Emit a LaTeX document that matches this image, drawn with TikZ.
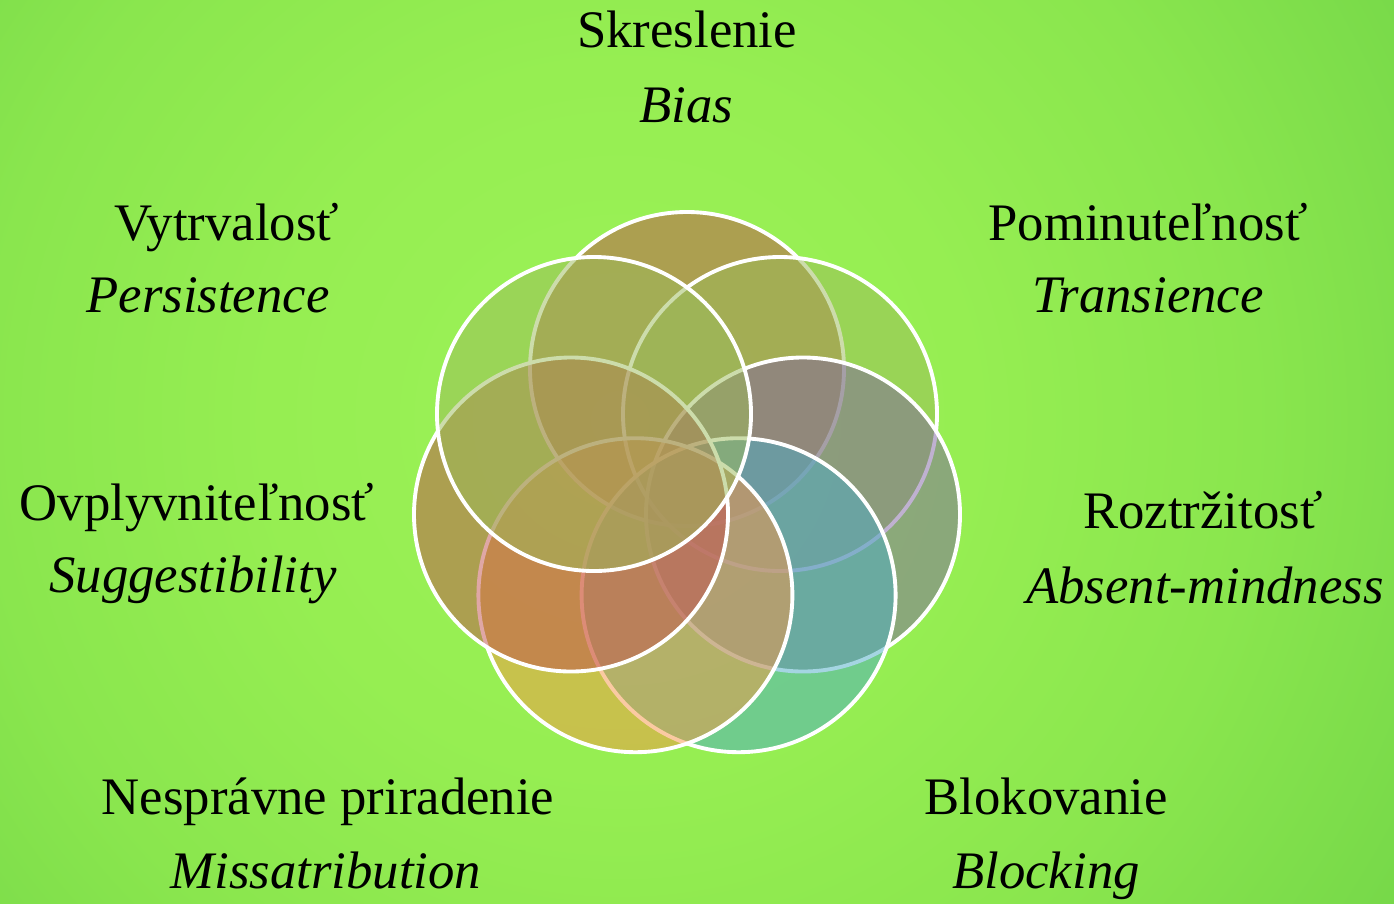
\documentclass[tikz,border=0pt]{standalone}
\usepackage{fontspec}
\setmainfont{Liberation Serif}
\usepackage{xcolor}
\usepackage{tikz}
\definecolor{bgA}{HTML}{9CF258}
\definecolor{bgB}{HTML}{96EE52}
\definecolor{bgC}{HTML}{8AE64E}
\definecolor{bgD}{HTML}{76D849}
\definecolor{bgE}{HTML}{6AD045}
\definecolor{bgF}{HTML}{64CA42}
\definecolor{cervena}{HTML}{C0504D}
\definecolor{zelena}{HTML}{9BBB59}
\definecolor{fialova}{HTML}{8064A2}
\definecolor{tyrkys}{HTML}{4BACC6}
\definecolor{oranzova}{HTML}{F79646}
\pgfdeclareradialshading{pozadie}{\pgfpoint{0bp}{0bp}}{color(0bp)=(bgA); color(9.3bp)=(bgB); color(16.7bp)=(bgC); color(24.2bp)=(bgD); color(29.8bp)=(bgE); color(34.6bp)=(bgF); color(50bp)=(bgF)}
\tikzset{
    kruh/.style = {circle, draw=white, line width=1.1pt, minimum size=3.14cm, inner sep=0pt, fill opacity=0.5},
    k1/.style = {fill=cervena},
    k2/.style = {fill=zelena},
    k3/.style = {fill=fialova},
    k4/.style = {fill=tyrkys},
    k5/.style = {fill=oranzova},
    popis/.style = {anchor=base, inner sep=0pt, font=\fontsize{15}{18}\selectfont},
    preklad/.style = {popis, font=\fontsize{15}{18}\selectfont\itshape}
}

\begin{document}
\begin{tikzpicture}
    \useasboundingbox (0,0) rectangle (13.94,-9.03);
    \begin{scope}
        \clip (0,0) rectangle (13.94,-9.03);
        \fill[bgF] (0,0) rectangle (13.94,-9.03);
        \shade[shading=pozadie] (6.20,-4.20) circle (9.5);
    \end{scope}
    % kruhy, v smere hodin od vrchu
    \node (skr) [kruh, k1] at (6.87, -3.69) {};
    \node (pom) [kruh, k2] at (7.80, -4.14) {};
    \node (roz) [kruh, k3] at (8.03, -5.145) {};
    \node (blo) [kruh, k4] at (7.386, -5.952) {};
    \node (nes) [kruh, k5] at (6.354, -5.952) {};
    \node (ovp) [kruh, k1] at (5.71, -5.145) {};
    \node (vyt) [kruh, k2] at (5.94, -4.14) {};
    % popisy
    \node (skrSK) [popis] at (6.87, -0.47) {Skreslenie};
    \node (skrEN) [preklad] at (6.86, -1.22) {Bias};
    \node (pomSK) [popis] at (11.48, -2.40) {Pominuteľnosť};
    \node (pomEN) [preklad] at (11.48, -3.12) {Transience};
    \node (rozSK) [popis] at (12.03, -5.28) {Roztržitosť};
    \node (rozEN) [preklad] at (12.05, -6.03) {Absent-mindness};
    \node (bloSK) [popis] at (10.46, -8.14) {Blokovanie};
    \node (bloEN) [preklad] at (10.46, -8.88) {Blocking};
    \node (nesSK) [popis] at (3.28, -8.14) {Nesprávne priradenie};
    \node (nesEN) [preklad] at (3.26, -8.88) {Missatribution};
    \node (ovpSK) [popis] at (1.97, -5.20) {Ovplyvniteľnosť};
    \node (ovpEN) [preklad] at (1.93, -5.92) {Suggestibility};
    \node (vytSK) [popis] at (2.27, -2.40) {Vytrvalosť};
    \node (vytEN) [preklad] at (2.08, -3.12) {Persistence};
\end{tikzpicture}
\end{document}
